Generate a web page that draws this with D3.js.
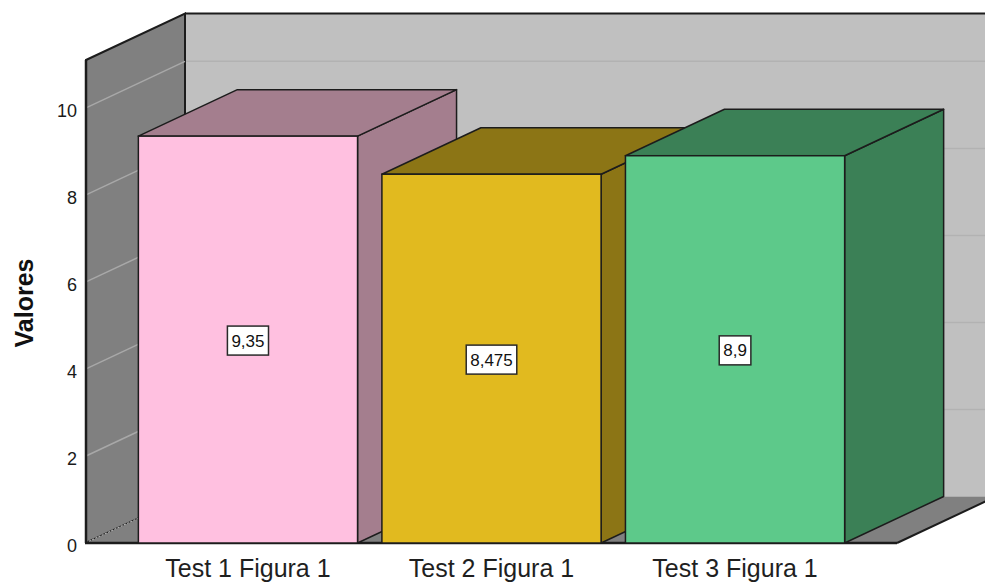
<!DOCTYPE html>
<html>
<head>
<meta charset="utf-8">
<script src="https://cdn.jsdelivr.net/npm/d3@7"></script>
<style>
  html, body { margin: 0; padding: 0; background: #ffffff; }
  svg { display: block; }
  text { font-family: "Liberation Sans", Arial, sans-serif; }
</style>
</head>
<body>
<svg id="chart" width="985" height="584"></svg>
<script>
// Data
const categories = ["Test 1 Figura 1", "Test 2 Figura 1", "Test 3 Figura 1"];
const values = [9.35, 8.475, 8.9];
const valueLabels = ["9,35", "8,475", "8,9"];
const yTicks = [0, 2, 4, 6, 8, 10];
const yMax = 11.1;
const frontColors = ["#ffc0e0", "#e1ba1f", "#5dc98a"];
const sideColors = ["#a47e8e", "#8c7515", "#3b8056"];

const svg = d3.select("#chart");

// Front plane scales plus the depth offset of the 3D box
const x = d3.scaleBand().domain(categories).range([86, 897]).paddingInner(0.1).paddingOuter(0.215);
const y = d3.scaleLinear().domain([0, yMax]).range([543, 60]);
const DX = 99, DY = -46.5;
const x0 = x.range()[0], x1 = x.range()[1];
const y0 = y(0), yTop = y(yMax);

const line = d3.line();
const poly = pts => line(pts) + "Z";
const edge = "#1c1c1c";

// Back wall
svg.append("path")
  .attr("d", poly([[x0 + DX, y0 + DY], [x0 + DX, yTop + DY], [x1 + DX + 20, yTop + DY], [x1 + DX + 20, y0 + DY]]))
  .attr("fill", "#c0c0c0");
svg.append("g").selectAll("line").data(yTicks.filter(d => d > 0)).join("line")
  .attr("x1", x0 + DX).attr("x2", x1 + DX + 20)
  .attr("y1", d => y(d) + DY).attr("y2", d => y(d) + DY)
  .attr("stroke", "#b2b2b2").attr("stroke-width", 1.5);
svg.append("line")
  .attr("x1", x0 + DX).attr("x2", x1 + DX + 20)
  .attr("y1", yTop + DY).attr("y2", yTop + DY)
  .attr("stroke", edge).attr("stroke-width", 2);

// Left wall
svg.append("path")
  .attr("d", poly([[x0, y0], [x0, yTop], [x0 + DX, yTop + DY], [x0 + DX, y0 + DY]]))
  .attr("fill", "#808080").attr("stroke", edge).attr("stroke-width", 2);
svg.append("g").selectAll("line").data(yTicks).join("line")
  .attr("x1", x0).attr("x2", x0 + DX)
  .attr("y1", d => y(d)).attr("y2", d => y(d) + DY)
  .attr("stroke", d => d === 0 ? "#c4c4c4" : "#a8a8a8").attr("stroke-width", 1.5)
  .attr("stroke-dasharray", d => d === 0 ? "2,1.5" : null);

// Floor
svg.append("path")
  .attr("d", poly([[x0, y0], [x0 + DX, y0 + DY], [x1 + DX, y0 + DY], [x1, y0]]))
  .attr("fill", "#808080");
svg.append("line")
  .attr("x1", x1).attr("y1", y0).attr("x2", x1 + DX).attr("y2", y0 + DY)
  .attr("stroke", edge).attr("stroke-width", 2);
svg.append("line")
  .attr("x1", x0).attr("y1", y0).attr("x2", x1).attr("y2", y0)
  .attr("stroke", edge).attr("stroke-width", 2.5);
svg.append("line")
  .attr("x1", x0).attr("y1", y0).attr("x2", x0).attr("y2", yTop)
  .attr("stroke", edge).attr("stroke-width", 2.5);

// Bars, drawn left to right so each one covers the side of the previous
const bars = svg.append("g");
categories.forEach((c, i) => {
  const bx = x(c), bw = x.bandwidth(), top = y(values[i]);
  const g = bars.append("g");
  g.append("path")
    .attr("d", poly([[bx + bw, y0], [bx + bw, top], [bx + bw + DX, top + DY], [bx + bw + DX, y0 + DY]]))
    .attr("fill", sideColors[i]).attr("stroke", edge).attr("stroke-width", 1.5).attr("stroke-linejoin", "round");
  g.append("path")
    .attr("d", poly([[bx, top], [bx + DX, top + DY], [bx + bw + DX, top + DY], [bx + bw, top]]))
    .attr("fill", sideColors[i]).attr("stroke", edge).attr("stroke-width", 1.5).attr("stroke-linejoin", "round");
  g.append("rect")
    .attr("x", bx).attr("y", top).attr("width", bw).attr("height", y0 - top)
    .attr("fill", frontColors[i]).attr("stroke", edge).attr("stroke-width", 1.5);
});

// Value labels
const lbl = svg.append("g");
categories.forEach((c, i) => {
  const cx = x(c) + x.bandwidth() / 2;
  const cy = y(values[i] / 2) + 1;
  const t = lbl.append("text")
    .attr("x", cx).attr("y", cy).attr("dy", "0.35em")
    .attr("text-anchor", "middle").attr("font-size", 17).attr("fill", "#111")
    .text(valueLabels[i]);
  const w = t.node().getComputedTextLength();
  lbl.insert("rect", () => t.node())
    .attr("x", cx - w / 2 - 4).attr("y", cy - 14.5)
    .attr("width", w + 8).attr("height", 29)
    .attr("fill", "#ffffff").attr("stroke", "#2a2a2a").attr("stroke-width", 1.5);
});

// Y axis tick labels
const yAxis = svg.append("g")
  .attr("transform", `translate(${x0},3)`)
  .call(d3.axisLeft(y).tickValues(yTicks).tickSize(0).tickPadding(9).tickFormat(d3.format("d")));
yAxis.select(".domain").remove();
yAxis.selectAll("text").attr("font-size", 18).attr("fill", "#1a1a1a")
  .style("font-family", "'Liberation Sans', Arial, sans-serif");

// Category labels
svg.append("g").selectAll("text").data(categories).join("text")
  .attr("x", d => x(d) + x.bandwidth() / 2).attr("y", 577)
  .attr("text-anchor", "middle").attr("font-size", 25).attr("fill", "#1f1f1f")
  .text(d => d);

// Y axis title
svg.append("text")
  .attr("transform", "translate(33,303) rotate(-90)")
  .attr("text-anchor", "middle").attr("font-size", 25).attr("font-weight", "bold").attr("fill", "#111")
  .text("Valores");
</script>
</body>
</html>
